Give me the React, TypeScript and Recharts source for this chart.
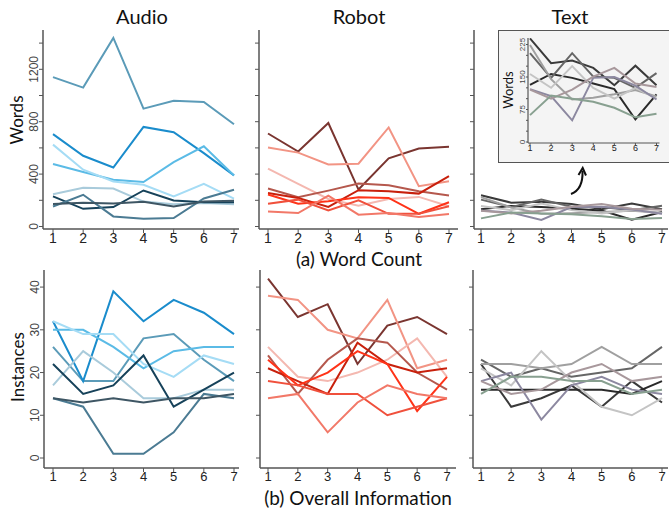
import { LineChart, Line, XAxis, YAxis } from 'recharts';

const xs = [1, 2, 3, 4, 5, 6, 7];

// Audio – word count
const audioWords = [
  [1140, 1060, 1440, 900, 960, 950, 780],
  [705, 540, 450, 760, 720, 560, 390],
  [477, 416, 357, 339, 492, 612, 390],
  [625, 434, 344, 319, 230, 326, 212],
  [246, 295, 290, 190, 170, 180, 170],
  [230, 135, 148, 275, 199, 186, 186],
  [153, 242, 77, 59, 64, 214, 281],
  [171, 181, 176, 189, 153, 191, 196],
];
// Audio – instances
const audioInst = [
  [26, 18, 18, 28, 29, 23, 18],
  [32, 18, 39, 32, 37, 34, 29],
  [30, 30, 26, 21, 25, 26, 26],
  [32, 29, 29, 22, 19, 24, 22],
  [17, 25, 20, 14, 14, 16, 16],
  [22, 15, 17, 24, 12, 16, 20],
  [14, 12, 1, 1, 6, 15, 14],
  [14, 13, 14, 13, 14, 14, 15],
];
const audioColors = ['#5b9bb8', '#1a8ccc', '#5bbbe6', '#a5dcf5', '#a9cbdb', '#16425a', '#4b7b93', '#3e5664'];

// Robot – word count
const robotWords = [
  [710, 572, 790, 282, 520, 595, 608],
  [603, 564, 474, 479, 756, 308, 346],
  [441, 326, 210, 159, 210, 226, 154],
  [290, 223, 274, 328, 315, 269, 236],
  [256, 218, 149, 277, 269, 251, 385],
  [244, 174, 192, 223, 218, 97, 185],
  [174, 205, 123, 200, 97, 97, 154],
  [115, 103, 236, 90, 103, 72, 95],
];
// Robot – instances
const robotInst = [
  [42, 33, 36, 22, 31, 33, 29],
  [38, 37, 30, 28, 37, 21, 23],
  [26, 19, 18, 20, 23, 28, 19],
  [24, 15, 23, 28, 27, 20, 16],
  [21, 18, 15, 27, 22, 20, 21],
  [23, 17, 20, 25, 22, 11, 19],
  [18, 17, 15, 15, 10, 12, 14],
  [14, 15, 6, 13, 17, 15, 14],
];
const robotColors = ['#7a3530', '#f29484', '#f4b8b0', '#b5584d', '#c8200c', '#ff3318', '#f0503c', '#f27868'];

// Text – word count
const textWords = [
  [239, 182, 188, 171, 131, 176, 131],
  [132, 157, 148, 135, 122, 52, 110],
  [205, 148, 205, 151, 148, 125, 159],
  [224, 145, 98, 102, 110, 120, 105],
  [157, 125, 175, 125, 100, 125, 100],
  [122, 106, 50, 148, 150, 130, 98],
  [121, 100, 121, 151, 171, 135, 127],
  [62, 107, 100, 93, 79, 57, 65],
];
// Text – instances
const textInst = [
  [22, 12, 14, 17, 12, 18, 13],
  [16, 16, 16, 16, 16, 15, 18],
  [23, 19, 21, 19, 20, 21, 26],
  [22, 22, 21, 22, 26, 22, 22],
  [21, 17, 25, 18, 12, 10, 14],
  [18, 20, 9, 17, 19, 16, 15],
  [18, 15, 16, 20, 22, 18, 19],
  [15, 19, 19, 18, 18, 15, 16],
];
const textColors = ['#3a3a3a', '#2a2a2a', '#666666', '#a0a0a0', '#c4c4c4', '#8c88a0', '#a8989c', '#88a090'];

const wordTicks = [0, 200, 400, 600, 800, 1000, 1200, 1400];
const wordLabels = [0, 400, 800, 1200];
const instTicks = [0, 10, 20, 30, 40];
const insetTicks = [0, 25, 50, 75, 100, 125, 150, 175, 200, 225];
const insetLabels = [0, 75, 150, 225];

const tickFont = '"Liberation Sans", Arial, sans-serif';
const titleFont = 'Lato, "Open Sans", sans-serif';

const YTick = (props: any) => {
  const { x, y, payload, labels, size } = props;
  if (!labels || !labels.includes(payload.value)) return null;
  return (
    <text x={x} y={y} transform={`rotate(-90 ${x} ${y})`} textAnchor="middle"
      fontSize={size} fill="#444" fontFamily={tickFont}>
      {payload.value}
    </text>
  );
};

function Panel(props: any) {
  const { x0, y0, x1, y1, padL, padR, padB, domain, ticks, labels, series, colors,
    labelSize = 12, xSize = 14, tickLen = 4, lineW = 2, mr = 6, axisW = 1.5 } = props;
  const ml = 40, mt = 6, xh = 22;
  const rows = xs.map((x, i) => {
    const r: any = { x };
    series.forEach((s: number[], j: number) => { r['s' + j] = s[i]; });
    return r;
  });
  return (
    <div style={{ position: 'absolute', left: x0 - ml, top: y0 - mt }}>
      <LineChart width={x1 - x0 + ml + mr} height={y1 - y0 + mt + xh} data={rows}
        margin={{ top: mt, right: mr, left: 0, bottom: 0 }}>
        <XAxis dataKey="x" height={xh} padding={{ left: padL, right: padR }}
          axisLine={{ stroke: '#555', strokeWidth: axisW }} tickLine={{ stroke: '#555' }}
          tickSize={tickLen} tickMargin={0} interval={0}
          tick={{ fontSize: xSize, fill: '#222', fontFamily: tickFont }} />
        <YAxis width={ml} type="number" domain={domain} ticks={ticks} interval={0}
          padding={{ bottom: padB }} allowDataOverflow
          axisLine={{ stroke: '#555', strokeWidth: axisW }} tickLine={{ stroke: '#555' }}
          tickSize={tickLen} tickMargin={1}
          tick={<YTick labels={labels} size={labelSize} />} />
        {series.map((_: number[], j: number) => (
          <Line key={j} dataKey={'s' + j} stroke={colors[j]} strokeWidth={lineW}
            dot={false} isAnimationActive={false} />
        ))}
      </LineChart>
    </div>
  );
}

export default function App() {
  return (
    <div style={{ position: 'absolute', left: 0, top: 0, width: 669, height: 512, overflow: 'hidden', background: '#fff' }}>
      {/* top row: word count */}
      <Panel x0={43} y0={30} x1={239} y1={229} padL={10} padR={5} padB={2.5}
        domain={[0, 1500]} ticks={wordTicks} labels={wordLabels} series={audioWords} colors={audioColors} />
      <Panel x0={259} y0={30} x1={458} y1={229} padL={9} padR={9} padB={2.5}
        domain={[0, 1500]} ticks={wordTicks} labels={[]} series={robotWords} colors={robotColors} />
      <Panel x0={474} y0={30} x1={668} y1={229} padL={7} padR={6} padB={2.5} mr={1}
        domain={[0, 1500]} ticks={wordTicks} labels={[]} series={textWords} colors={textColors} />

      {/* bottom row: instances */}
      <Panel x0={44} y0={270} x1={239} y1={468} padL={9} padR={5} padB={10} xSize={13}
        domain={[0, 44]} ticks={instTicks} labels={instTicks} series={audioInst} colors={audioColors} />
      <Panel x0={260} y0={270} x1={456} y1={468} padL={8} padR={9} padB={10} xSize={13}
        domain={[0, 44]} ticks={instTicks} labels={[]} series={robotInst} colors={robotColors} />
      <Panel x0={473} y0={270} x1={668} y1={468} padL={8} padR={6} padB={10} mr={1} xSize={13}
        domain={[0, 44]} ticks={instTicks} labels={[]} series={textInst} colors={textColors} />

      {/* inset zoom of text word count */}
      <div style={{ position: 'absolute', left: 498, top: 30, width: 170, height: 131, background: '#f4f4f4', border: '1px solid #555' }} />
      <Panel x0={527.5} y0={38} x1={659} y1={143} padL={2} padR={3} padB={1} mr={3}
        domain={[0, 240]} ticks={insetTicks} labels={insetLabels} series={textWords} colors={textColors}
        labelSize={8} xSize={9} tickLen={2} lineW={2} axisW={1.2} />

      <svg width={669} height={512} style={{ position: 'absolute', left: 0, top: 0, pointerEvents: 'none' }}>
        <g fontFamily={titleFont} fill="#111">
          <text x={142} y={24} fontSize={20} textAnchor="middle">Audio</text>
          <text x={359} y={24} fontSize={20} textAnchor="middle">Robot</text>
          <text x={570} y={24} fontSize={20} textAnchor="middle">Text</text>
          <text x={359} y={266} fontSize={19} textAnchor="middle">(a) Word Count</text>
          <text x={358} y={505} fontSize={19} textAnchor="middle">(b) Overall Information</text>
          <text x={23} y={120} fontSize={17} textAnchor="middle" transform="rotate(-90 23 120)">Words</text>
          <text x={24} y={367} fontSize={17} textAnchor="middle" transform="rotate(-90 24 367)">Instances</text>
          <text x={513} y={90} fontSize={13} textAnchor="middle" transform="rotate(-90 513 90)">Words</text>
        </g>
        <path d="M 571 194 C 579 191, 583 184, 582.5 171" fill="none" stroke="#111" strokeWidth={2} />
        <path d="M 578.5 175 L 582.7 168 L 586 175.5" fill="none" stroke="#111" strokeWidth={2} />
      </svg>
    </div>
  );
}
